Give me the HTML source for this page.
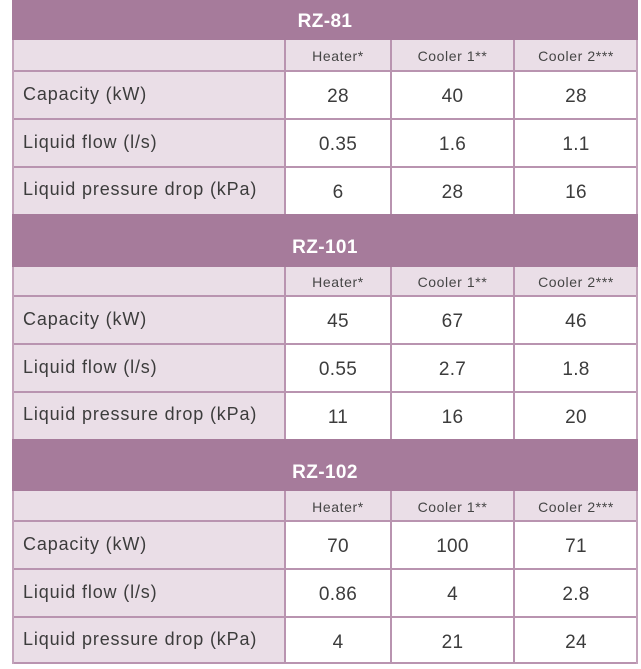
<!DOCTYPE html>
<html><head><meta charset="utf-8">
<style>
html,body{margin:0;padding:0}
body{width:641px;height:669px;background:#fff;position:relative;overflow:hidden;font-family:"Liberation Sans",sans-serif}
.a{position:absolute;box-sizing:border-box}
.h{background:#a67b9b;left:12px;width:626px}
.ht{color:#fff;font-weight:bold;font-size:19px;letter-spacing:.4px;text-align:center;left:12px;width:626px;line-height:20px;height:20px}
.p{background:#eadee7}
.w{background:#fff}
.c{display:flex;align-items:center;justify-content:center}
.l{display:flex;align-items:center;padding-left:11px;padding-bottom:2px;font-size:18px;letter-spacing:.85px;color:#3c3c3c}
.s{font-size:14px;letter-spacing:.6px;color:#454545;padding-top:1px}
.n{font-size:19px;color:#3c3c3c;letter-spacing:.3px;padding-top:4px}
.hl{left:12px;width:626px;height:2px;background:#b994b0}
.vl{width:2px;background:#b994b0}
</style></head><body>

<div class="a" style="left:362px;top:0;width:46px;height:1px;background:#8f8090"></div>

<!-- ===== Section 1 ===== -->
<div class="a h" style="top:0;height:40px"></div>
<div class="a ht" style="top:12px">RZ-81</div>
<div class="a p" style="left:12px;top:40px;width:273px;height:31px"></div>
<div class="a p c s" style="left:285px;top:40px;width:106px;height:31px">Heater*</div>
<div class="a p c s" style="left:391px;top:40px;width:123px;height:31px">Cooler 1**</div>
<div class="a p c s" style="left:514px;top:40px;width:124px;height:31px">Cooler 2***</div>

<div class="a p l" style="left:12px;top:71px;width:273px;height:48px">Capacity (kW)</div>
<div class="a w c n" style="left:285px;top:71px;width:106px;height:48px">28</div>
<div class="a w c n" style="left:391px;top:71px;width:123px;height:48px">40</div>
<div class="a w c n" style="left:514px;top:71px;width:124px;height:48px">28</div>

<div class="a p l" style="left:12px;top:119px;width:273px;height:48px">Liquid flow (l/s)</div>
<div class="a w c n" style="left:285px;top:119px;width:106px;height:48px">0.35</div>
<div class="a w c n" style="left:391px;top:119px;width:123px;height:48px">1.6</div>
<div class="a w c n" style="left:514px;top:119px;width:124px;height:48px">1.1</div>

<div class="a p l" style="left:12px;top:167px;width:273px;height:47px">Liquid pressure drop (kPa)</div>
<div class="a w c n" style="left:285px;top:167px;width:106px;height:47px">6</div>
<div class="a w c n" style="left:391px;top:167px;width:123px;height:47px">28</div>
<div class="a w c n" style="left:514px;top:167px;width:124px;height:47px">16</div>

<div class="a hl" style="top:70px"></div>
<div class="a hl" style="top:118px"></div>
<div class="a hl" style="top:166px"></div>
<div class="a vl" style="left:12px;top:40px;height:174px;background:#c3a3bb"></div>
<div class="a vl" style="left:284px;top:40px;height:174px"></div>
<div class="a vl" style="left:390px;top:40px;height:174px"></div>
<div class="a vl" style="left:513px;top:40px;height:174px"></div>
<div class="a vl" style="left:636px;top:40px;height:174px;background:#c3a3bb"></div>

<!-- ===== Section 2 ===== -->
<div class="a h" style="top:214px;height:53px"></div>
<div class="a ht" style="top:238px">RZ-101</div>
<div class="a p" style="left:12px;top:267px;width:273px;height:29px"></div>
<div class="a p c s" style="left:285px;top:267px;width:106px;height:29px">Heater*</div>
<div class="a p c s" style="left:391px;top:267px;width:123px;height:29px">Cooler 1**</div>
<div class="a p c s" style="left:514px;top:267px;width:124px;height:29px">Cooler 2***</div>

<div class="a p l" style="left:12px;top:296px;width:273px;height:48px">Capacity (kW)</div>
<div class="a w c n" style="left:285px;top:296px;width:106px;height:48px">45</div>
<div class="a w c n" style="left:391px;top:296px;width:123px;height:48px">67</div>
<div class="a w c n" style="left:514px;top:296px;width:124px;height:48px">46</div>

<div class="a p l" style="left:12px;top:344px;width:273px;height:48px">Liquid flow (l/s)</div>
<div class="a w c n" style="left:285px;top:344px;width:106px;height:48px">0.55</div>
<div class="a w c n" style="left:391px;top:344px;width:123px;height:48px">2.7</div>
<div class="a w c n" style="left:514px;top:344px;width:124px;height:48px">1.8</div>

<div class="a p l" style="left:12px;top:392px;width:273px;height:47px">Liquid pressure drop (kPa)</div>
<div class="a w c n" style="left:285px;top:392px;width:106px;height:47px">11</div>
<div class="a w c n" style="left:391px;top:392px;width:123px;height:47px">16</div>
<div class="a w c n" style="left:514px;top:392px;width:124px;height:47px">20</div>

<div class="a hl" style="top:295px"></div>
<div class="a hl" style="top:343px"></div>
<div class="a hl" style="top:391px"></div>
<div class="a vl" style="left:12px;top:267px;height:172px;background:#c3a3bb"></div>
<div class="a vl" style="left:284px;top:267px;height:172px"></div>
<div class="a vl" style="left:390px;top:267px;height:172px"></div>
<div class="a vl" style="left:513px;top:267px;height:172px"></div>
<div class="a vl" style="left:636px;top:267px;height:172px;background:#c3a3bb"></div>

<!-- ===== Section 3 ===== -->
<div class="a h" style="top:439px;height:52px"></div>
<div class="a ht" style="top:463px">RZ-102</div>
<div class="a p" style="left:12px;top:491px;width:273px;height:30px"></div>
<div class="a p c s" style="left:285px;top:491px;width:106px;height:30px">Heater*</div>
<div class="a p c s" style="left:391px;top:491px;width:123px;height:30px">Cooler 1**</div>
<div class="a p c s" style="left:514px;top:491px;width:124px;height:30px">Cooler 2***</div>

<div class="a p l" style="left:12px;top:521px;width:273px;height:48px">Capacity (kW)</div>
<div class="a w c n" style="left:285px;top:521px;width:106px;height:48px">70</div>
<div class="a w c n" style="left:391px;top:521px;width:123px;height:48px">100</div>
<div class="a w c n" style="left:514px;top:521px;width:124px;height:48px">71</div>

<div class="a p l" style="left:12px;top:569px;width:273px;height:48px">Liquid flow (l/s)</div>
<div class="a w c n" style="left:285px;top:569px;width:106px;height:48px">0.86</div>
<div class="a w c n" style="left:391px;top:569px;width:123px;height:48px">4</div>
<div class="a w c n" style="left:514px;top:569px;width:124px;height:48px">2.8</div>

<div class="a p l" style="left:12px;top:617px;width:273px;height:47px">Liquid pressure drop (kPa)</div>
<div class="a w c n" style="left:285px;top:617px;width:106px;height:47px">4</div>
<div class="a w c n" style="left:391px;top:617px;width:123px;height:47px">21</div>
<div class="a w c n" style="left:514px;top:617px;width:124px;height:47px">24</div>

<div class="a hl" style="top:520px"></div>
<div class="a hl" style="top:568px"></div>
<div class="a hl" style="top:616px"></div>
<div class="a hl" style="top:662px"></div>
<div class="a vl" style="left:12px;top:491px;height:173px;background:#c3a3bb"></div>
<div class="a vl" style="left:284px;top:491px;height:173px"></div>
<div class="a vl" style="left:390px;top:491px;height:173px"></div>
<div class="a vl" style="left:513px;top:491px;height:173px"></div>
<div class="a vl" style="left:636px;top:491px;height:173px;background:#c3a3bb"></div>

</body></html>
